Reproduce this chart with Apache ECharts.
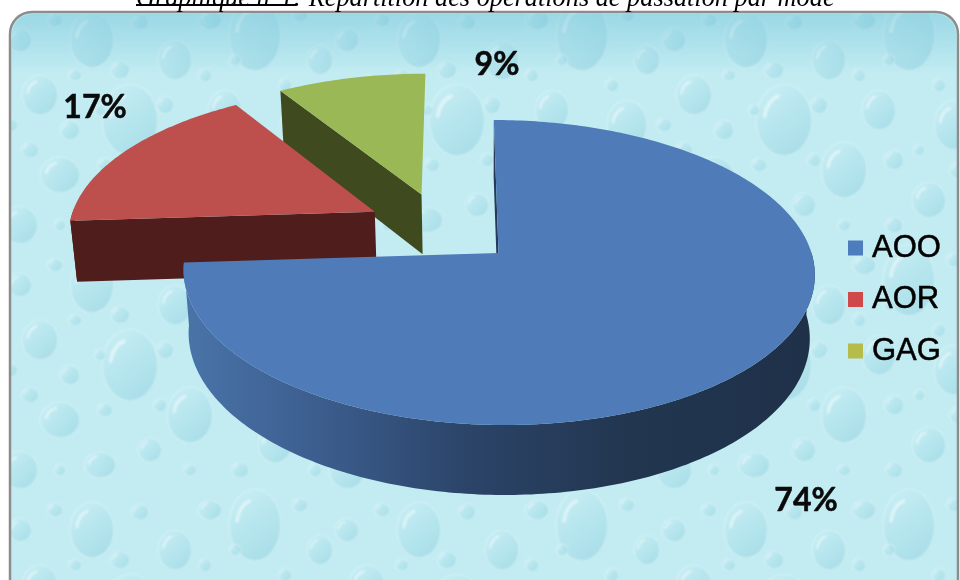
<!DOCTYPE html>
<html><head><meta charset="utf-8">
<style>html,body{margin:0;padding:0;background:#fff}#c{width:960px;height:580px}</style>
<script src="https://cdn.jsdelivr.net/npm/echarts@6/dist/echarts.min.js"></script>
</head><body><div id="c"></div>
<script>
const categories = ["AOO", "AOR", "GAG"];
const values = [74, 17, 9];
const pctLabels = ["74%", "17%", "9%"];
const titleText = "Graphique n°1: Répartition des opérations de passation par mode";

const topColors = ["#4f7cb8", "#bd504d", "#9ab856"];
const wallColors = ["#26395a", "#4f1d1b", "#3f4a1f"];
const legendColors = ["#4e7dbd", "#d0494a", "#b5bc4a"];
const labelAnchors = [[806, 501], [95, 108], [497, 65]];

// view: projective mapping of the pie plane, top face and bottom face
const view = {ax: 498.5, ay: 253, R: 313, B: 150, k: 0.128, ay2: 315.5, R2: 308, B2: 156.5, explode: 0.25, shear: 0.035};
const total = values.reduce((a, b) => a + b, 0);
const startAngles = [];
values.reduce((acc, v, i) => { startAngles[i] = acc; return acc + v / total * 2 * Math.PI; }, 0);
const midOf = i => startAngles[i] + values[i] / total * Math.PI;
const originU = view.explode * Math.sin(midOf(0)), originV = view.explode * Math.cos(midOf(0));
function proj(u, v, lower) {
  const U = u - originU, V = v - originV, d = 1 + view.k * V;
  const y = lower ? -view.B2 * V / d : -view.B * V / d;
  const x = (lower ? view.R2 : view.R) * U / d + view.shear * y;
  return [view.ax + x, (lower ? view.ay2 : view.ay) + y];
}
function sliceGeom(i, value) {
  const a0 = startAngles[i], a1 = a0 + value / total * 2 * Math.PI;
  const cu = view.explode * Math.sin(midOf(i)), cv = view.explode * Math.cos(midOf(i));
  const arc = (lower, frontOnly) => {
    const pts = [], n = Math.ceil((a1 - a0) * 60);
    for (let s = 0; s <= n; s++) {
      const a = a0 + (a1 - a0) * s / n;
      if (frontOnly && Math.cos(a) > 0.02) continue;
      pts.push(proj(cu + Math.sin(a), cv + Math.cos(a), lower));
    }
    return pts;
  };
  return {topArc: arc(false), frontTop: arc(false, true), frontLow: arc(true, true),
    apex: proj(cu, cv, false), apexLow: proj(cu, cv, true)};
}
function wallFill(i) {
  if (i !== 0) return wallColors[i];
  return {type: 'linear', x: 0, y: 0, x2: 1, y2: 0, colorStops: [
    {offset: 0, color: '#4a74a9'}, {offset: .2, color: '#3d5f90'}, {offset: .45, color: '#2b4468'},
    {offset: .7, color: '#223650'}, {offset: 1, color: '#1f3149'}]};
}
function renderSlice(i) {
  return function (params, api) {
    const g = sliceGeom(i, api.value(0));
    const fill = wallFill(i), kids = [];
    const poly = (pts, f) => ({type: 'polygon', shape: {points: pts}, style: {fill: f}, silent: true});
    const tL = g.topArc;
    const lowStart = sliceGeomLowStart(i);
    kids.push(poly([g.apex, tL[0], lowStart, g.apexLow], wallColors[i]));
    if (g.frontTop.length > 1) kids.push(poly(g.frontTop.concat(g.frontLow.slice().reverse()), fill));
    kids.push(poly([g.apex].concat(tL), topColors[i]));
    kids.push({type: 'text', silent: true, x: labelAnchors[i][0], y: labelAnchors[i][1],
      style: {text: pctLabels[i], fill: '#0a0a0a', font: 'bold 32px Lato', align: 'center', verticalAlign: 'middle',
        stroke: '#0a0a0a', lineWidth: 0.5}});
    return {type: 'group', children: kids};
  };
}
function sliceGeomLowStart(i) {
  const a = startAngles[i];
  return proj(view.explode * Math.sin(midOf(i)) + Math.sin(a), view.explode * Math.cos(midOf(i)) + Math.cos(a), true);
}

// water-drop texture tile (decoration only)
const dropTile = [
  [255,35,26,36],[92,40,22,28],[175,60,17,20],[40,95,18,20],[130,120,28,36],[225,110,17,20],[300,125,20,25],
  [60,175,20,18],[190,170,23,28],[275,200,17,18],[100,220,16,13],[20,225,18,19],[320,60,13,15],[150,205,12,12],
  [20,40,12,12],[210,20,12,10],[70,130,10,10],[240,160,10,10],[305,170,10,9],[120,70,10,9],[165,105,9,9],[30,150,9,8],
  [55,20,8,7],[140,22,9,8],[300,15,8,7],[205,75,7,7],[75,75,7,6],[10,125,8,7],[105,165,8,7],[160,160,7,7],
  [240,225,9,8],[315,225,7,7],[60,225,6,6],[190,225,7,6],[265,150,6,6],[285,85,7,7],[100,110,6,6],[235,60,6,6]
];
function makeTile() {
  const c = document.createElement('canvas'); c.width = 327; c.height = 245;
  const x = c.getContext('2d');
  x.fillStyle = '#c2ecf2'; x.fillRect(0, 0, 327, 245);
  x.filter = 'blur(1.2px)';
  dropTile.forEach(([dx, dy, rx, ry]) => {
    for (const ox of [0, 327, -327]) for (const oy of [0, 245, -245]) {
      const px = dx + ox, py = dy + oy;
      const g = x.createLinearGradient(px - rx, py - ry, px + rx, py + ry);
      g.addColorStop(0, 'rgba(215,245,248,.35)');
      g.addColorStop(.5, 'rgba(165,220,232,.4)');
      g.addColorStop(1, 'rgba(130,200,218,.45)');
      x.fillStyle = g; x.beginPath(); x.ellipse(px, py, rx, ry, 0, 0, 7); x.fill();
      x.strokeStyle = 'rgba(235,250,252,.55)'; x.lineWidth = 1.2;
      x.beginPath(); x.ellipse(px, py, rx, ry, 0, 0, 7); x.stroke();
      x.strokeStyle = 'rgba(245,253,254,.55)'; x.lineWidth = Math.max(1, rx / 7); x.lineCap = 'round';
      x.beginPath(); x.ellipse(px, py, rx * .7, ry * .7, 0, Math.PI * 1.05, Math.PI * 1.4); x.stroke();
    }
  });
  return c;
}

const chart = echarts.init(document.getElementById('c'), null, {renderer: 'canvas'});
chart.setOption({
  animation: false,
  backgroundColor: '#ffffff',
  graphic: [
    {type: 'rect', z: -10, silent: true, shape: {x: 10, y: 12, width: 948, height: 600, r: 22},
      style: {fill: {image: makeTile(), repeat: 'repeat'}, stroke: '#8c8c8c', lineWidth: 2.5}},
    {type: 'rect', z: -9, silent: true, shape: {x: 12, y: 14, width: 944, height: 60, r: [20, 20, 0, 0]},
      style: {fill: {type: 'linear', x: 0, y: 0, x2: 0, y2: 1, colorStops: [
        {offset: 0, color: 'rgba(95,185,210,.4)'}, {offset: 1, color: 'rgba(95,185,210,0)'}]}}},
    {type: 'text', z: 5, silent: true, x: 136, y: 12,
      style: {text: titleText, fill: '#000', font: 'italic 26.3px "Liberation Serif"', verticalAlign: 'bottom'}},
    {type: 'rect', z: 5, silent: true, shape: {x: 136, y: 4, width: 160, height: 2}, style: {fill: '#000'}}
  ],
  legend: {
    show: true, orient: 'vertical', left: 843, top: 226, itemWidth: 15, itemHeight: 15, itemGap: 17.5, icon: 'rect',
    selectedMode: false,
    textStyle: {fontFamily: '"Liberation Sans"', fontSize: 31, color: '#000', padding: [0, 0, 0, 4], lineHeight: 34,
      textBorderColor: '#000', textBorderWidth: 0.5},
    data: categories, itemStyle: {borderWidth: 0}
  },
  series: categories.map((name, i) => ({
    type: 'custom', name, coordinateSystem: 'none', z: 3 + (2 - i) * 1,
    itemStyle: {color: legendColors[i]},
    renderItem: renderSlice(i), data: [[values[i]]]
  }))
});
</script></body></html>
